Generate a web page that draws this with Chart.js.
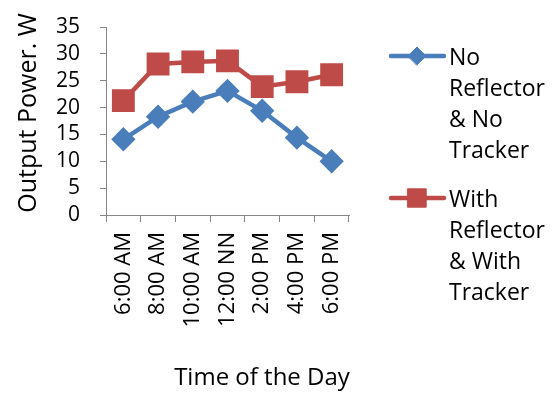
<!DOCTYPE html>
<html>
<head>
<meta charset="utf-8">
<script src="https://cdn.jsdelivr.net/npm/chart.js@4"></script>
<style>
  html, body { margin: 0; padding: 0; background: #fff; }
  #wrap { width: 552px; height: 394px; position: relative; }
</style>
</head>
<body>
<div id="wrap"><canvas id="c" width="552" height="394"></canvas></div>
<script>
const categories = ['6:00 AM', '8:00 AM', '10:00 AM', '12:00 NN', '2:00 PM', '4:00 PM', '6:00 PM'];
const noReflectorNoTracker = [14.1, 18.3, 21.1, 23.1, 19.4, 14.4, 10.0];
const withReflectorWithTracker = [21.3, 28.1, 28.5, 28.7, 23.9, 24.8, 26.1];
const seriesLabels = ['No Reflector & No Tracker', 'With Reflector & With Tracker'];
const yTitle = 'Output Power. W';
const xTitle = 'Time of the Day';

const FONT = "'Open Sans', sans-serif";
const AXIS = '#868686';

const customText = {
  id: 'customText',
  afterDraw(chart) {
    const ctx = chart.ctx;
    ctx.save();
    ctx.fillStyle = '#000';
    // x axis title
    ctx.font = "24px " + FONT;
    ctx.textAlign = 'center';
    ctx.textBaseline = 'middle';
    ctx.fillText(xTitle, 262, 378);
    // y axis title
    ctx.save();
    ctx.translate(29, 113);
    ctx.rotate(-Math.PI / 2);
    ctx.font = "25px " + FONT;
    ctx.fillText(yTitle, 0, 0);
    ctx.restore();
    // legend
    const starts = [58, 200];
    chart.data.datasets.forEach((ds, i) => {
      ctx.font = "23px " + FONT;
      const words = ds.label.split(' ');
      const lines = [];
      let cur = '';
      words.forEach(w => {
        const t = cur ? cur + ' ' + w : w;
        if (cur && ctx.measureText(t).width > 104) { lines.push(cur); cur = w; }
        else cur = t;
      });
      if (cur) lines.push(cur);
      const y0 = starts[i];
      const ly = y0 - 2;
      ctx.strokeStyle = ds.borderColor;
      ctx.lineWidth = ds.borderWidth;
      ctx.lineCap = 'round';
      ctx.beginPath();
      ctx.moveTo(391, ly);
      ctx.lineTo(444, ly);
      ctx.stroke();
      ctx.fillStyle = ds.pointBackgroundColor;
      ctx.strokeStyle = ds.pointBorderColor;
      ctx.lineWidth = 1;
      Chart.helpers.drawPoint(ctx, {
        pointStyle: ds.pointStyle, radius: ds.pointRadius, borderWidth: 1, rotation: 0
      }, 417, ly);
      ctx.fillStyle = '#000';
      ctx.textAlign = 'left';
      ctx.textBaseline = 'middle';
      lines.forEach((ln, k) => ctx.fillText(ln, 449, y0 + k * 31));
    });
    ctx.restore();
  }
};

new Chart(document.getElementById('c'), {
  type: 'line',
  data: {
    labels: categories,
    datasets: [
      {
        label: seriesLabels[0],
        data: noReflectorNoTracker,
        borderColor: '#4A7EBB',
        backgroundColor: '#4A7EBB',
        pointBackgroundColor: '#4A7EBB',
        pointBorderColor: '#4A7EBB',
        borderWidth: 4.5,
        pointStyle: 'rectRot',
        pointRadius: 9,
        pointHoverRadius: 9,
        tension: 0
      },
      {
        label: seriesLabels[1],
        data: withReflectorWithTracker,
        borderColor: '#BE4B48',
        backgroundColor: '#BE4B48',
        pointBackgroundColor: '#BE4B48',
        pointBorderColor: '#BE4B48',
        borderWidth: 4.5,
        pointStyle: 'rect',
        pointRadius: 13,
        pointHoverRadius: 13,
        tension: 0
      }
    ]
  },
  options: {
    responsive: false,
    animation: false,
    events: [],
    layout: { padding: { top: 27, right: 203, bottom: 0, left: 0 } },
    plugins: {
      legend: { display: false },
      tooltip: { enabled: false }
    },
    scales: {
      x: {
        type: 'category',
        offset: true,
        grid: { offset: true, drawOnChartArea: false, color: AXIS, tickLength: 7, tickColor: AXIS },
        border: { color: AXIS, width: 1 },
        ticks: {
          color: '#000', font: { family: FONT, size: 22 },
          minRotation: 90, maxRotation: 90, padding: 10, autoSkip: false
        },
        afterFit(s) { s.height = 179; s.paddingLeft = 0; s.paddingRight = 0; }
      },
      y: {
        min: 0, max: 35,
        grid: { drawOnChartArea: false, color: AXIS, tickLength: 6, tickColor: AXIS },
        border: { color: AXIS, width: 1 },
        ticks: { stepSize: 5, autoSkip: false, color: '#000', font: { family: FONT, size: 21 }, padding: 20 },
        afterFit(s) { s.width = 106; s.paddingTop = 0; s.paddingBottom = 0; }
      }
    }
  },
  plugins: [customText]
});
</script>
</body>
</html>
